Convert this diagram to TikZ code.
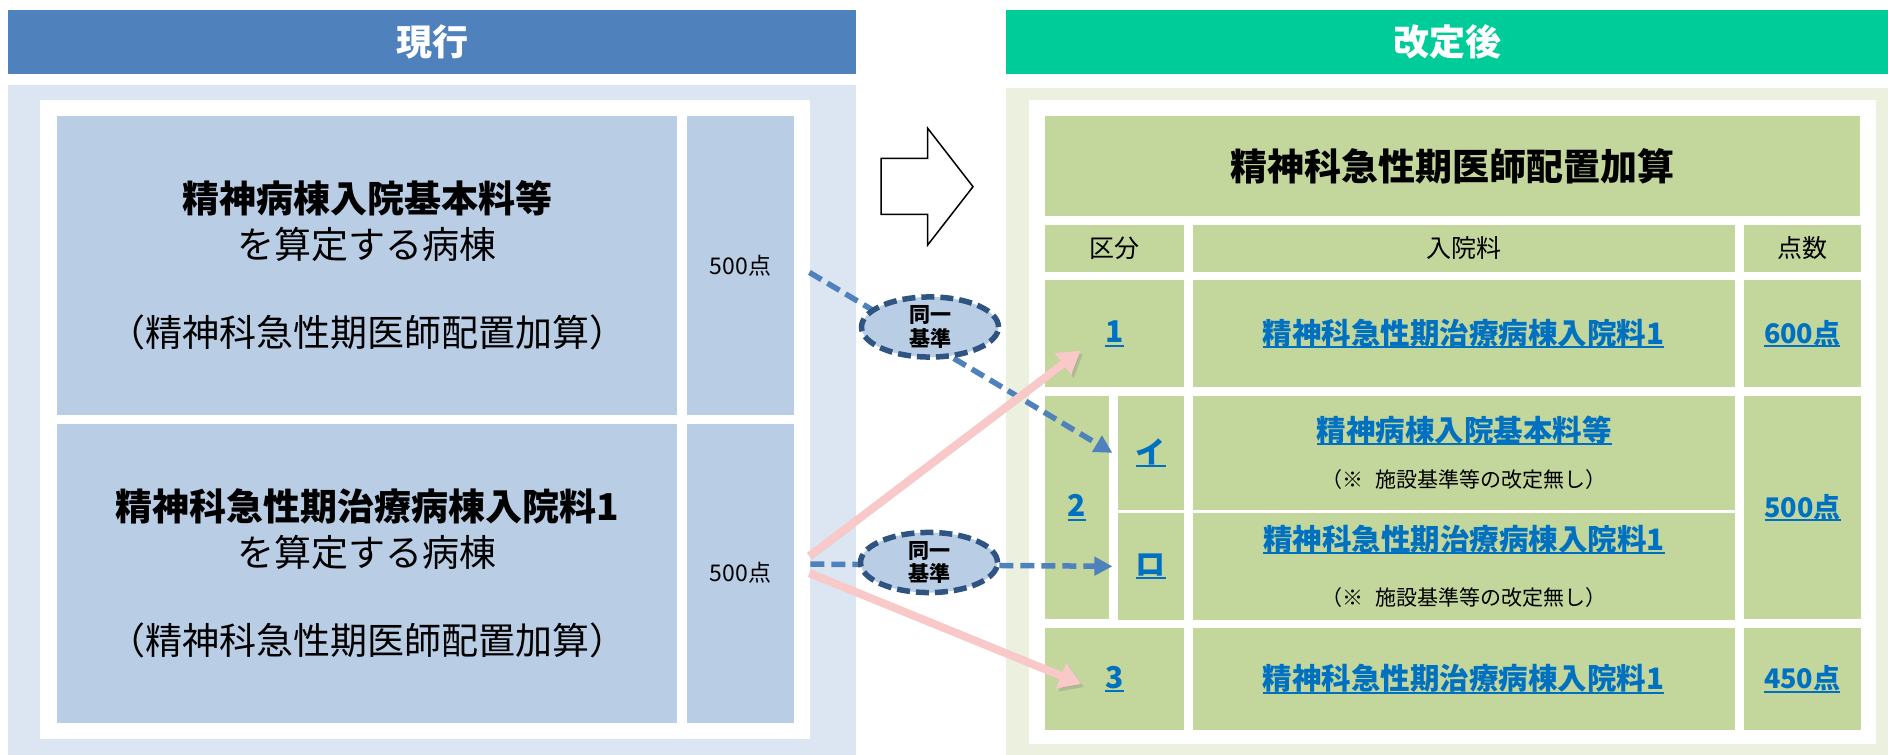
\documentclass[tikz,border=0pt]{standalone}
\usepackage{fontspec}
\setmainfont{Noto Sans CJK JP}
\usetikzlibrary{shapes.geometric, arrows.meta, positioning}
\definecolor{hdrleft}{RGB}{79,129,189}
\definecolor{hdrright}{RGB}{0,204,153}
\definecolor{panelleft}{RGB}{220,230,242}
\definecolor{panelright}{RGB}{235,241,222}
\definecolor{cellleft}{RGB}{185,205,229}
\definecolor{cellright}{RGB}{195,214,155}
\definecolor{linkblue}{RGB}{0,112,192}
\definecolor{sameline}{RGB}{47,84,130}
\definecolor{dashblue}{RGB}{79,129,189}
\definecolor{pinkarrow}{RGB}{249,200,200}
\newcommand{\lnk}[1]{{\color{linkblue}\bfseries\setbox0\hbox{#1}\rlap{\rule[-4pt]{\wd0}{2pt}}\box0}}
\newcommand{\notetxt}[1]{{\fontsize{21}{25}\selectfont\mdseries\color{black}#1}}
\tikzset{
    header/.style={
        rectangle, inner sep=0pt, text=white,
        minimum height=64pt, font=\fontsize{36}{40}\selectfont\bfseries
    },
    panel/.style={rectangle, inner sep=0pt, anchor=north west},
    oldcell/.style={
        rectangle, inner sep=0pt, fill=cellleft, align=center,
        minimum height=299pt, font=\fontsize{37}{46}\selectfont
    },
    newcell/.style={
        rectangle, inner sep=0pt, fill=cellright, align=center,
        font=\fontsize{29.5}{32}\selectfont
    },
    colhead/.style={newcell, minimum height=46.7pt, font=\fontsize{25}{28}\selectfont},
    keycell/.style={newcell, font=\fontsize{30}{32}\selectfont},
    ptcell/.style={newcell, font=\fontsize{27}{30}\selectfont},
    samebase/.style={
        ellipse, draw=sameline, fill=cellleft, line width=5.5pt,
        dash pattern=on 13pt off 6pt, minimum width=137pt, minimum height=55pt,
        inner sep=0pt, align=center, font=\fontsize{21}{23.5}\selectfont\bfseries
    },
    dashlink/.style={draw=dashblue, line width=5.5pt, dash pattern=on 14pt off 7pt,
        -{Triangle[width=18pt,length=18pt]}},
    pinklink/.style={draw=pinkarrow, line width=8pt, -{Triangle[width=26pt,length=22pt]},
        preaction={draw=black!50, opacity=0.3, transform canvas={shift={(2.5pt,-3pt)}}}}
}
\begin{document}
\begin{tikzpicture}[x=1pt, y=-1pt, node distance=8.5pt]
\useasboundingbox[fill=white] (0,0) rectangle (1888,755);

% Left: current rules
\node[header, fill=hdrleft, minimum width=848pt] (nowhdr) at (432,42) {現行};
\node[panel, fill=panelleft, minimum width=848pt, minimum height=670pt] (nowpanel) at (8,85) {};
\node[panel, fill=white, minimum width=770pt, minimum height=639pt] (nowbox) at (40,99.3) {};
\node[oldcell, minimum width=620.4pt, anchor=north west] (wardA) at (56.6,115.7)
    {{\bfseries 精神病棟入院基本料等}\\を算定する病棟\\[42pt]（精神科急性期医師配置加算）};
\node[oldcell, minimum width=107.6pt, right=9pt of wardA, font=\fontsize{23}{26}\selectfont] (ptsA) {500点};
\node[oldcell, minimum width=620.4pt, below=8.3pt of wardA] (wardB)
    {{\bfseries 精神科急性期治療病棟入院料1}\\を算定する病棟\\[42pt]（精神科急性期医師配置加算）};
\node[oldcell, minimum width=107.6pt, right=9pt of wardB, font=\fontsize{23}{26}\selectfont] (ptsB) {500点};

% Right: after revision
\node[header, fill=hdrright, minimum width=882pt] (newhdr) at (1447,42) {改定後};
\node[panel, fill=panelright, minimum width=882pt, minimum height=668pt] (newpanel) at (1006,87.3) {};
\node[panel, fill=white, minimum width=846.6pt, minimum height=644pt] (newbox) at (1028.8,99.3) {};
\node[newcell, anchor=north west, minimum width=815pt, minimum height=100pt,
    font=\fontsize{37}{40}\selectfont\bfseries] (title) at (1045,115.7) {精神科急性期医師配置加算};

% column heads
\node[colhead, minimum width=138.5pt, below=8.5pt of title.south west, anchor=north west] (hKubun) {区分};
\node[colhead, minimum width=542pt, right=of hKubun] (hFee) {入院料};
\node[colhead, minimum width=117.5pt, right=of hFee] (hPts) {点数};

% row 1
\node[keycell, minimum width=138.5pt, minimum height=106.7pt, below=8.5pt of hKubun.south west, anchor=north west] (k1) {\lnk{1}};
\node[newcell, minimum width=542pt, minimum height=106.7pt, right=of k1] (fee1) {\lnk{精神科急性期治療病棟入院料1}};
\node[ptcell, minimum width=117.5pt, minimum height=106.7pt, right=of fee1] (pts1) {\lnk{600点}};

% row 2
\node[keycell, minimum width=63.6pt, minimum height=223.3pt, below=8.5pt of k1.south west, anchor=north west] (k2) {\lnk{2}};
\node[keycell, minimum width=66.5pt, minimum height=113.7pt, anchor=north west] (kI) at ([xshift=8.4pt]k2.north east) {\lnk{イ}};
\node[keycell, minimum width=66.5pt, minimum height=106.8pt, below=2.8pt of kI] (kRo) {\lnk{ロ}};
\node[newcell, minimum width=542pt, minimum height=113.7pt, right=of kI] (feeI)
    {\lnk{精神病棟入院基本料等}\\[14.5pt]\notetxt{（※\hspace{0.55em}施設基準等の改定無し）}};
\node[newcell, minimum width=542pt, minimum height=106.8pt, right=of kRo] (feeRo)
    {\lnk{精神科急性期治療病棟入院料1}\\[23pt]\notetxt{（※\hspace{0.55em}施設基準等の改定無し）}};
\node[ptcell, minimum width=117.5pt, minimum height=223.3pt, right=8.5pt of feeI.north east, anchor=north west] (pts2) {\lnk{500点}};

% row 3
\node[keycell, minimum width=138.5pt, minimum height=101.7pt, below=8.5pt of k2.south west, anchor=north west] (k3) {\lnk{3}};
\node[newcell, minimum width=542pt, minimum height=101.7pt, right=of k3] (fee3) {\lnk{精神科急性期治療病棟入院料1}};
\node[ptcell, minimum width=117.5pt, minimum height=101.7pt, right=of fee3] (pts3) {\lnk{450点}};

% Links between old and new
\draw[dashlink] ([xshift=15pt,yshift=-7pt]ptsA.east) -- ([xshift=-5pt]kI.west);
\draw[dashlink] ([xshift=16pt,yshift=9pt]ptsB.east) -- ([xshift=-5pt]kRo.west);
\draw[pinklink] ([xshift=15pt,yshift=17pt]ptsB.east) -- ([xshift=-34pt,yshift=-17pt]k1.center);
\draw[pinklink] ([xshift=15pt]ptsB.east) -- ([xshift=-33pt,yshift=-5pt]k3.center);

\node[samebase] (same1) at (930,327) {同一\\基準};
\node[samebase] (same2) at (929,562.5) {同一\\基準};

% Big arrow
\draw[line width=1.5pt, fill=white] (881,158.3) -- (927.7,158.3) -- (927.7,128.3) -- (973,186.7)
    -- (927.7,245) -- (927.7,214.3) -- (881,214.3) -- cycle;

\end{tikzpicture}
\end{document}
